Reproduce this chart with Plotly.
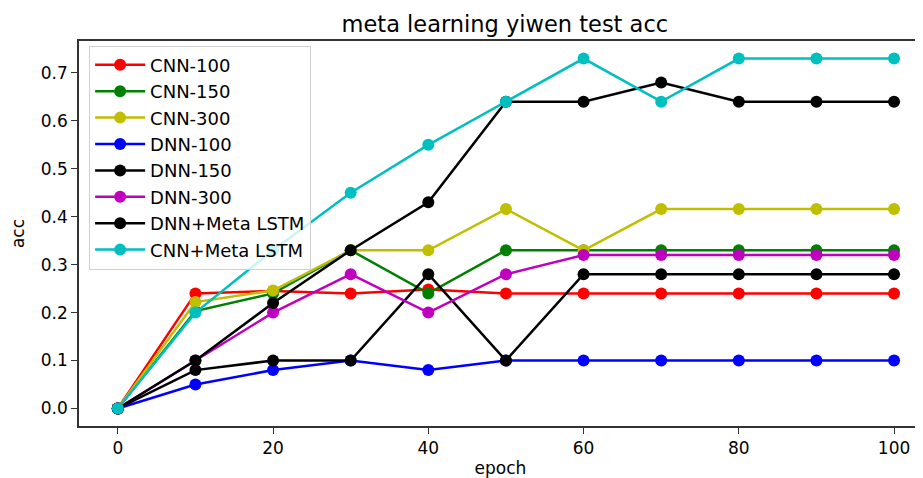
import plotly.graph_objects as go

epochs = [0, 10, 20, 30, 40, 50, 60, 70, 80, 90, 100]

cnn_100 = [0.0, 0.24, 0.245, 0.24, 0.248, 0.24, 0.24, 0.24, 0.24, 0.24, 0.24]
cnn_150 = [0.0, 0.203, 0.24, 0.33, 0.24, 0.33, 0.33, 0.33, 0.33, 0.33, 0.33]
cnn_300 = [0.0, 0.222, 0.246, 0.33, 0.33, 0.416, 0.33, 0.416, 0.416, 0.416, 0.416]
dnn_100 = [0.0, 0.05, 0.08, 0.1, 0.08, 0.1, 0.1, 0.1, 0.1, 0.1, 0.1]
dnn_150 = [0.0, 0.08, 0.1, 0.1, 0.28, 0.1, 0.28, 0.28, 0.28, 0.28, 0.28]
dnn_300 = [0.0, 0.1, 0.2, 0.28, 0.2, 0.28, 0.32, 0.32, 0.32, 0.32, 0.32]
dnn_meta = [0.0, 0.1, 0.22, 0.33, 0.43, 0.64, 0.64, 0.68, 0.64, 0.64, 0.64]
cnn_meta = [0.0, 0.2, 0.33, 0.45, 0.55, 0.64, 0.73, 0.64, 0.73, 0.73, 0.73]

series_names = ["CNN-100", "CNN-150", "CNN-300", "DNN-100", "DNN-150",
                "DNN-300", "DNN+Meta LSTM", "CNN+Meta LSTM"]
series_values = [cnn_100, cnn_150, cnn_300, dnn_100, dnn_150,
                 dnn_300, dnn_meta, cnn_meta]
series_colors = ["#ff0000", "#008000", "#bfbf00", "#0000ff", "#000000",
                 "#bf00bf", "#000000", "#00bfbf"]

x_ticks = [0, 20, 40, 60, 80, 100]
y_ticks = [0.0, 0.1, 0.2, 0.3, 0.4, 0.5, 0.6, 0.7]

FONT = "DejaVu Sans"

fig = go.Figure()
for name, vals, col in zip(series_names, series_values, series_colors):
    fig.add_trace(go.Scatter(
        x=epochs, y=vals, name=name, mode="lines+markers",
        line=dict(color=col, width=2.5),
        marker=dict(color=col, size=12),
        legendgroup=name,
    ))

# page body adds an 8px offset, so the figure is 915x470 and shifted margins
fig.update_layout(
    width=915, height=470,
    margin=dict(l=71, r=1, t=33, b=52, autoexpand=False),
    paper_bgcolor="white", plot_bgcolor="white",
    font=dict(family=FONT, size=16, color="black"),
    title=dict(text="meta learning yiwen test acc", x=0.543, xanchor="center",
               y=0.966, yanchor="middle", font=dict(size=22.5, family=FONT)),
    showlegend=True,
    legend=dict(x=0.012, y=0.988, xanchor="left", yanchor="top",
                bgcolor="rgba(255,255,255,0.8)", bordercolor="#d0d0d0", borderwidth=1,
                font=dict(size=18, family=FONT), traceorder="grouped",
                tracegroupgap=0, itemwidth=50),
    xaxis=dict(range=[-5, 103.6], tickvals=x_ticks, ticks="outside", ticklen=6,
               tickcolor="#333", showgrid=False, zeroline=False, showline=True,
               linecolor="#333", linewidth=1.5, mirror=True, automargin=False,
               title=dict(text="epoch", standoff=11, font=dict(size=17)),
               tickfont=dict(size=17)),
    yaxis=dict(range=[-0.0366, 0.7666], tickvals=y_ticks, tickformat=".1f",
               ticks="outside", ticklen=6, tickcolor="#333", showgrid=False,
               zeroline=False, showline=True, linecolor="#333", linewidth=1.5,
               automargin=False,
               title=dict(text="acc", standoff=16, font=dict(size=17)),
               tickfont=dict(size=17)),
)

fig.write_html("out.html")
